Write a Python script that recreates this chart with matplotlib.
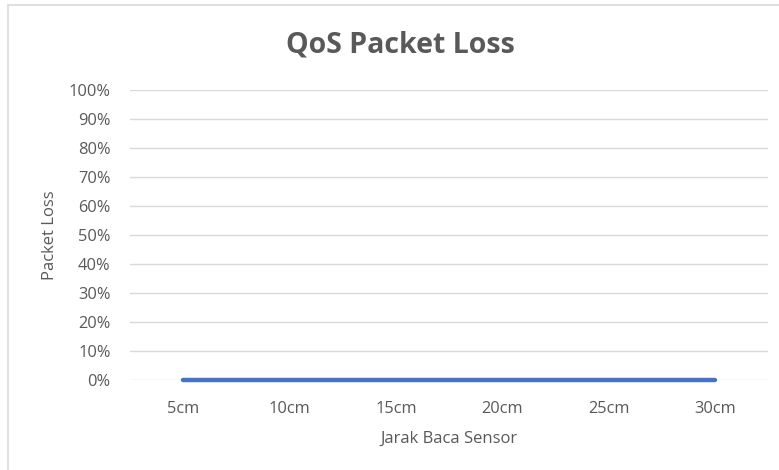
import matplotlib.pyplot as plt
from matplotlib.patches import Rectangle
from matplotlib.ticker import FuncFormatter

# chart data
jarak = ['5cm', '10cm', '15cm', '20cm', '25cm', '30cm']
packet_loss = [0, 0, 0, 0, 0, 0]

plt.rcParams['font.family'] = ['Open Sans', 'DejaVu Sans']
txt = '#595959'

fig = plt.figure(figsize=(7.79, 4.70), dpi=100)
ax = fig.add_axes([0.167, 0.191, 0.819, 0.617])

x = list(range(len(jarak)))
ax.plot(x, packet_loss, color='#4472C4', linewidth=3.2, solid_capstyle='round',
        zorder=3, clip_on=False)

ax.set_xlim(-0.5, len(jarak) - 0.5)
ax.set_ylim(0, 1)
ax.set_yticks([i / 10 for i in range(11)])
ax.yaxis.set_major_formatter(FuncFormatter(lambda v, p: f'{v * 100:.0f}%'))
ax.set_xticks(x)
ax.set_xticklabels(jarak)
ax.grid(axis='y', color='#d9d9d9', linewidth=1)
ax.set_axisbelow(True)
for s in ax.spines.values():
    s.set_visible(False)
ax.tick_params(length=0, colors=txt, labelsize=11.8)
ax.tick_params(axis='x', pad=15)
ax.tick_params(axis='y', pad=14)

ax.set_xlabel('Jarak Baca Sensor', color=txt, fontsize=12, labelpad=10)
ax.set_ylabel('Packet Loss', color=txt, fontsize=12, labelpad=8)
fig.text(0.514, 0.904, 'QoS Packet Loss', ha='center', va='center',
         fontsize=20.5, fontweight='bold', color=txt)

# chart border
fig.patches.append(Rectangle((8 / 779, -0.1), 1.1, 1.1 - 5 / 470,
                             transform=fig.transFigure, fill=False,
                             edgecolor='#d9d9d9', linewidth=1.2))

fig.savefig('out.png', dpi=100)
